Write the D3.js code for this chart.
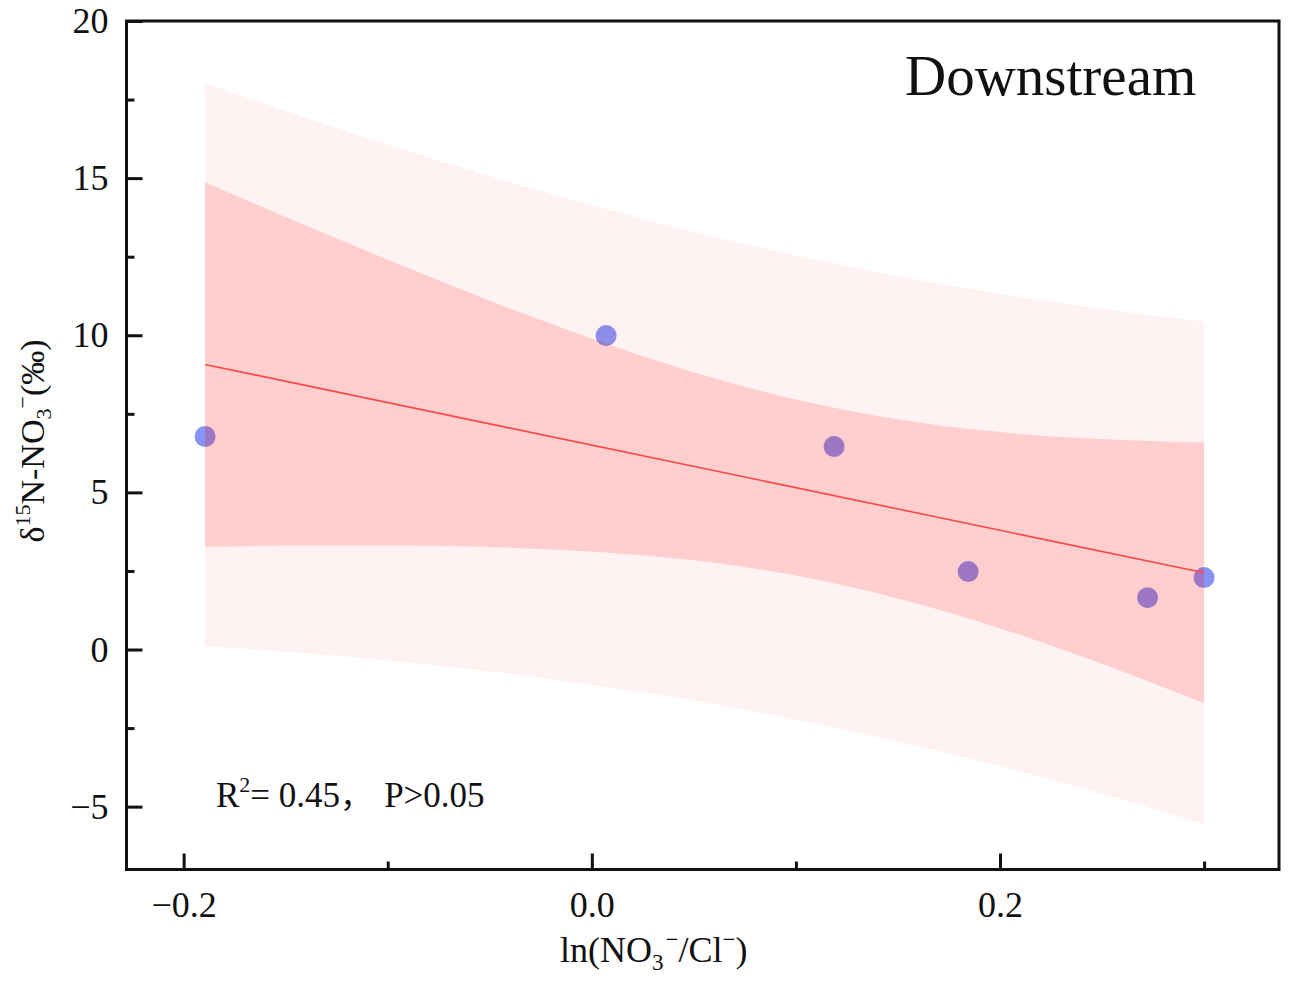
<!DOCTYPE html>
<html>
<head>
<meta charset="utf-8">
<script src="https://cdn.jsdelivr.net/npm/d3@7"></script>
<style>
  html, body { margin: 0; padding: 0; background: #fff; }
  svg { display: block; }
  text { font-family: "Liberation Serif", "Times New Roman", serif; fill: #111; }
</style>
</head>
<body>
<svg id="chart" width="1294" height="987"></svg>
<script>
// ---- data ----
const pointX = [-0.1895, 0.007, 0.1187, 0.1844, 0.2723, 0.300];
const pointY = [6.78, 9.99, 6.46, 2.48, 1.65, 2.29];

// fitted line end points
const fitX = [-0.1895, 0.300];
const fitY = [9.07, 2.44];

// band samples (95% confidence and prediction bands)
const bandX   = [-0.1895, -0.14, -0.09, -0.04, 0.01, 0.06, 0.11, 0.16, 0.21, 0.26, 0.300];
const ciUpper = [14.87, 13.49, 12.14, 10.85, 9.67, 8.63, 7.81, 7.22, 6.86, 6.67, 6.59];
const ciLower = [3.27, 3.31, 3.31, 3.24, 3.07, 2.76, 2.23, 1.45, 0.46, -0.70, -1.71];
const piUpper = [18.03, 16.92, 15.86, 14.87, 13.96, 13.13, 12.40, 11.76, 11.21, 10.75, 10.44];
const piLower = [0.11, -0.12, -0.41, -0.77, -1.22, -1.74, -2.36, -3.08, -3.88, -4.78, -5.55];

const xMajorTicks = [-0.2, 0.0, 0.2];
const xMinorTicks = [-0.1, 0.1, 0.3];
const yMajorTicks = [-5, 0, 5, 10, 15, 20];
const yMinorTicks = [-2.5, 2.5, 7.5, 12.5, 17.5];
const xTickLabels = ["\u22120.2", "0.0", "0.2"];
const yTickLabels = ["\u22125", "0", "5", "10", "15", "20"];

const titleText = "Downstream";

// ---- layout ----
const L = 126.5, R = 1279, T = 21, B = 869.5;
const svg = d3.select("#chart");

const x = d3.scaleLinear().domain([-0.228, 0.3367]).range([L, R]);
const y = d3.scaleLinear().domain([-7, 20]).range([B, T]);

// points (drawn beneath the translucent bands)
const pts = pointX.map((v, i) => ({x: v, y: pointY[i]}));
svg.append("g").selectAll("circle").data(pts).join("circle")
  .attr("cx", d => x(d.x)).attr("cy", d => y(d.y)).attr("r", 10.5)
  .attr("fill", "#8794f3");

// bands
const pi = bandX.map((v, i) => ({x: v, lo: piLower[i], hi: piUpper[i]}));
const ci = bandX.map((v, i) => ({x: v, lo: ciLower[i], hi: ciUpper[i]}));
const area = d3.area().x(d => x(d.x)).y0(d => y(d.lo)).y1(d => y(d.hi)).curve(d3.curveMonotoneX);
svg.append("path").datum(pi).attr("d", area).attr("fill", "#ff0000").attr("fill-opacity", 0.05);
svg.append("path").datum(ci).attr("d", area).attr("fill", "#ff0000").attr("fill-opacity", 0.145);

// fit line
const fit = fitX.map((v, i) => ({x: v, y: fitY[i]}));
svg.append("path").datum(fit)
  .attr("d", d3.line().x(d => x(d.x)).y(d => y(d.y)))
  .attr("stroke", "#ff4545").attr("stroke-width", 1.6).attr("fill", "none");

// axes
const fmtX = d => xTickLabels[xMajorTicks.indexOf(d)];
const fmtY = d => yTickLabels[yMajorTicks.indexOf(d)];

const gx = svg.append("g").attr("transform", `translate(0,${B})`)
  .call(d3.axisBottom(x).tickValues(xMajorTicks).tickFormat(fmtX).tickSize(-16).tickSizeOuter(0).tickPadding(22));
const gxm = svg.append("g").attr("transform", `translate(0,${B})`)
  .call(d3.axisBottom(x).tickValues(xMinorTicks).tickFormat("").tickSize(-8).tickSizeOuter(0));
const gy = svg.append("g").attr("transform", `translate(${L},0)`)
  .call(d3.axisLeft(y).tickValues(yMajorTicks).tickFormat(fmtY).tickSize(-16).tickSizeOuter(0).tickPadding(18));
const gym = svg.append("g").attr("transform", `translate(${L},0)`)
  .call(d3.axisLeft(y).tickValues(yMinorTicks).tickFormat("").tickSize(-8).tickSizeOuter(0));

[gx, gxm, gy, gym].forEach(g => {
  g.select(".domain").remove();
  g.selectAll(".tick line").attr("stroke", "#111").attr("stroke-width", 3);
  g.selectAll(".tick text").attr("font-family", "Liberation Serif, serif").attr("font-size", 36).attr("fill", "#111");
});

// frame
svg.append("rect").attr("x", L).attr("y", T).attr("width", R - L).attr("height", B - T)
  .attr("fill", "none").attr("stroke", "#111").attr("stroke-width", 3);

// title
svg.append("text").attr("x", 905).attr("y", 95).attr("font-size", 57).text(titleText);

// R2 annotation
const r2 = svg.append("text").attr("x", 216).attr("y", 807).attr("font-size", 35);
r2.append("tspan").text("R");
r2.append("tspan").attr("font-size", 22).attr("dy", -15).text("2");
r2.append("tspan").attr("dy", 15).text("= 0.45");
r2.append("tspan").attr("font-family", "Noto Sans CJK SC").attr("font-size", 32).text("\uFF0C");
r2.append("tspan").attr("dx", 12).text("P>0.05");

// x-axis title
const xl = svg.append("text").attr("x", 560).attr("y", 962).attr("font-size", 36);
xl.append("tspan").text("ln(NO");
xl.append("tspan").attr("font-size", 23).attr("dy", 8).text("3");
xl.append("tspan").attr("font-size", 23).attr("dx", 2).attr("dy", -23).text("\u2212");
xl.append("tspan").attr("dy", 15).text("/Cl");
xl.append("tspan").attr("font-size", 23).attr("dy", -15).text("\u2212");
xl.append("tspan").attr("dy", 15).text(")");

// y-axis title
const yl = svg.append("text").attr("transform", `translate(44,441) rotate(-90)`)
  .attr("text-anchor", "middle").attr("font-size", 34);
yl.append("tspan").text("\u03B4");
yl.append("tspan").attr("font-size", 22).attr("dy", -14).text("15");
yl.append("tspan").attr("dy", 14).text("N-NO");
yl.append("tspan").attr("font-size", 22).attr("dy", 7).text("3");
yl.append("tspan").attr("font-size", 22).attr("dy", -21).text("\u2212");
yl.append("tspan").attr("dy", 14).text("(\u2030)");
</script>
</body>
</html>
